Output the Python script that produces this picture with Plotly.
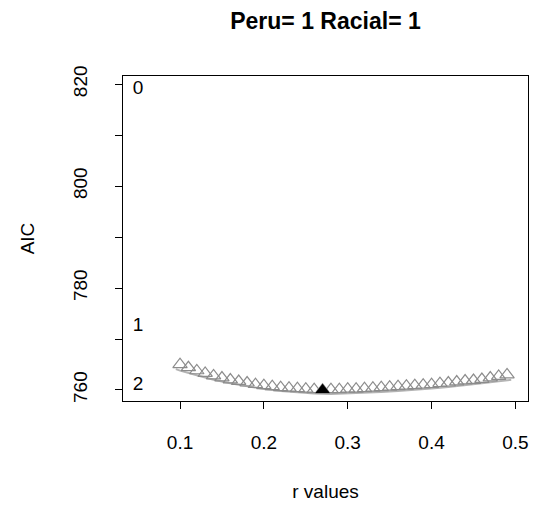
import plotly.graph_objects as go

r_vals = [round(0.10 + 0.01 * i, 2) for i in range(40)]
aic_vals = [765.0, 764.4, 763.8, 763.3, 762.8, 762.4, 762.0, 761.7, 761.4, 761.1,
            760.9, 760.7, 760.5, 760.4, 760.3, 760.2, 760.1, 760.0, 760.1, 760.1,
            760.2, 760.2, 760.3, 760.4, 760.5, 760.6, 760.7, 760.8, 760.9, 761.0,
            761.1, 761.3, 761.4, 761.6, 761.8, 761.9, 762.1, 762.4, 762.7, 763.0]
line_r = [0.095, 0.10, 0.12, 0.14, 0.16, 0.18, 0.20, 0.22, 0.24, 0.26, 0.28,
          0.30, 0.32, 0.34, 0.36, 0.38, 0.40, 0.42, 0.44, 0.46, 0.48, 0.495]
line_aic = [764.1, 763.8, 762.9, 762.0, 761.3, 760.7, 760.2, 759.8, 759.5, 759.3, 759.2,
            759.3, 759.4, 759.6, 759.8, 760.0, 760.3, 760.6, 760.9, 761.3, 761.7, 762.0]
best_r = [0.27]
best_aic = [760.0]
lab_r = [0.05, 0.05, 0.05]
lab_aic = [819.0, 772.5, 760.9]
lab_text = ["0", "1", "2"]
title = "Peru= 1 Racial= 1"

FONT = "Liberation Sans, Arial"

fig = go.Figure()
fig.add_trace(go.Scatter(x=line_r, y=line_aic, mode="lines",
                         line=dict(color="#b4b4b4", width=2), hoverinfo="skip"))
fig.add_trace(go.Scatter(x=r_vals, y=aic_vals, mode="markers",
                         marker=dict(symbol="triangle-up-open", size=12.5,
                                     color="#8c8c8c", line=dict(width=1.2, color="#8c8c8c"))))
fig.add_trace(go.Scatter(x=best_r, y=best_aic, mode="markers",
                         marker=dict(symbol="triangle-up", size=12.5, color="black",
                                     line=dict(width=0))))
fig.add_trace(go.Scatter(x=lab_r, y=lab_aic, mode="text", text=lab_text,
                         textfont=dict(family=FONT, size=19, color="black"),
                         textposition="middle center"))

fig.update_layout(
    width=537, height=516,
    margin=dict(l=123, r=9, t=76, b=115),
    paper_bgcolor="white", plot_bgcolor="white",
    showlegend=False,
    font=dict(family=FONT, size=19, color="black"),
    title=dict(text="<b>" + title + "</b>", x=325.5 / 537, xanchor="center",
               y=1 - 21 / 516, yanchor="middle",
               font=dict(size=23, family=FONT)),
)
fig.update_xaxes(range=[0.032, 0.515], tickvals=[0.1, 0.2, 0.3, 0.4, 0.5],
                 ticktext=["0.1", "0.2", "0.3", "0.4", "0.5"],
                 tickfont=dict(size=19),
                 showgrid=False, zeroline=False, showline=True, linecolor="black",
                 linewidth=1, mirror=True, ticks="outside", ticklen=7, tickcolor="black",
                 ticklabelstandoff=17,
                 title=dict(text="r values", standoff=32, font=dict(size=19)))
fig.update_yaxes(range=[757.84, 821.6], tickvals=[760, 770, 780, 790, 800, 810, 820],
                 ticktext=["760", "", "780", "", "800", "", "820"], tickangle=-90,
                 tickfont=dict(size=19),
                 showgrid=False, zeroline=False, showline=True, linecolor="black",
                 linewidth=1, mirror=True, ticks="outside", ticklen=7, tickcolor="black",
                 ticklabelstandoff=20,
                 title=dict(text="AIC", standoff=30, font=dict(size=19)))

fig.write_html("out.html")
